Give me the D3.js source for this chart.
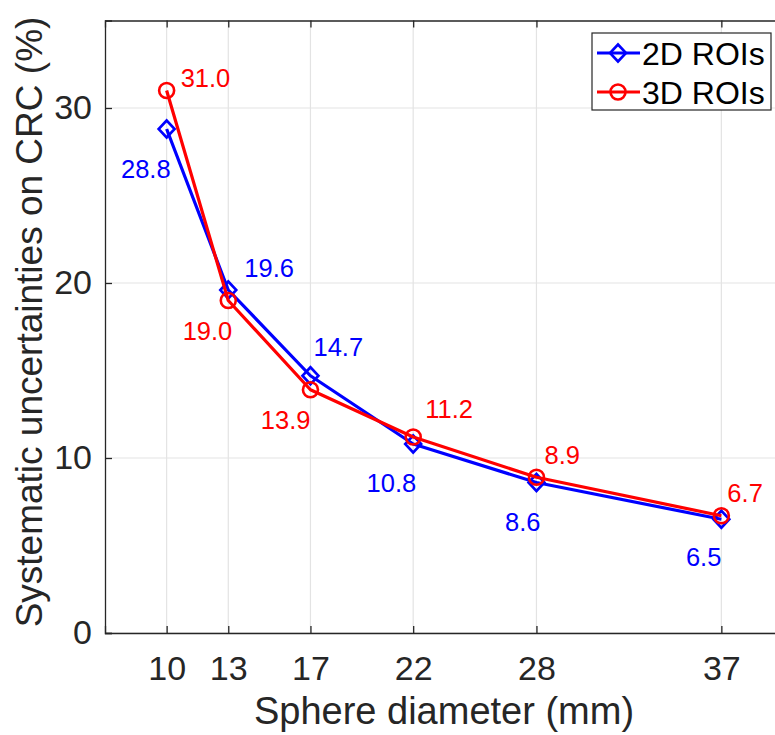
<!DOCTYPE html>
<html>
<head>
<meta charset="utf-8">
<script src="https://cdn.jsdelivr.net/npm/d3@7/dist/d3.min.js"></script>
<style>
  html, body { margin: 0; padding: 0; background: #fff; }
  svg { display: block; }
  text { font-family: "Liberation Sans", Arial, Helvetica, sans-serif; }
</style>
</head>
<body>
<svg id="chart" width="775" height="735"></svg>
<script>
// Sphere diameters (mm)
const diameters = [10, 13, 17, 22, 28, 37];
// Systematic uncertainties on CRC (%)
const roi2D = [28.8, 19.6, 14.7, 10.8, 8.6, 6.5];
const roi3D = [31.0, 19.0, 13.9, 11.2, 8.9, 6.7];
const yTicks = [0, 10, 20, 30];
const seriesNames = ["2D ROIs", "3D ROIs"];

// Value-label placement: [anchor, dx, dy] relative to each point
const place2D = [["end", 4, 40], ["start", 16, -22], ["start", 3, -29], ["end", 3, 39], ["end", 4, 39], ["end", 0, 38]];
const place3D = [["start", 14, -13], ["end", 4, 30], ["end", 0, 30], ["start", 12, -28], ["start", 8, -22], ["start", 6, -23]];

const svg = d3.select("#chart");
const m = { left: 105, top: 20.5, right: 783, bottom: 633 };

const x = d3.scaleLinear().domain([7, 40]).range([m.left, m.right]);
const y = d3.scaleLinear().domain([0, 35]).range([m.bottom, m.top]);

const axisColor = "#262626";
const gridColor = "#e3e3e3";

// grid
const g = svg.append("g");
g.selectAll(".gx").data(diameters).join("line")
  .attr("x1", d => x(d)).attr("x2", d => x(d))
  .attr("y1", m.top).attr("y2", m.bottom)
  .attr("stroke", gridColor).attr("stroke-width", 1.2);
g.selectAll(".gy").data(yTicks).join("line")
  .attr("x1", m.left).attr("x2", m.right)
  .attr("y1", d => y(d)).attr("y2", d => y(d))
  .attr("stroke", gridColor).attr("stroke-width", 1.2);

// axes (inward ticks, box)
const xAxis = d3.axisBottom(x).tickValues(diameters).tickSize(-7).tickPadding(23).tickFormat(d3.format("d"));
const yAxis = d3.axisLeft(y).tickValues(yTicks).tickSize(-7).tickPadding(13).tickFormat(d3.format("d"));

const gx = svg.append("g").attr("transform", `translate(0,${m.bottom})`).call(xAxis);
const gy = svg.append("g").attr("transform", `translate(${m.left},0)`).call(yAxis);
const gxTop = svg.append("g").attr("transform", `translate(0,${m.top})`)
  .call(d3.axisTop(x).tickValues(diameters).tickSize(-7).tickFormat(""));

[gx, gy, gxTop].forEach(a => {
  a.select(".domain").attr("stroke", axisColor).attr("stroke-width", 1.3);
  a.selectAll(".tick line").attr("stroke", axisColor).attr("stroke-width", 1.3);
  a.selectAll(".tick text").attr("fill", axisColor).attr("font-size", 34)
    .attr("font-family", "Liberation Sans, Arial, sans-serif");
});
gx.selectAll(".tick text").attr("dy", "0.71em");

// axis labels
svg.append("text")
  .attr("x", (m.left + m.right) / 2).attr("y", 724)
  .attr("text-anchor", "middle").attr("font-size", 38).attr("fill", axisColor)
  .text("Sphere diameter (mm)");
svg.append("text")
  .attr("transform", `translate(42,322) rotate(-90)`)
  .attr("text-anchor", "middle").attr("font-size", 37).attr("fill", axisColor)
  .text("Systematic uncertainties on CRC (%)");

// series
const series = [
  { name: seriesNames[0], values: roi2D, color: "#0000ff", marker: "diamond", place: place2D },
  { name: seriesNames[1], values: roi3D, color: "#ff0000", marker: "circle", place: place3D }
];

const line = d3.line().x(d => x(d[0])).y(d => y(d[1]));

function drawMarker(sel, type, color) {
  if (type === "diamond") {
    sel.append("path").attr("d", "M0,-8.5L8,0L0,8.5L-8,0Z")
      .attr("fill", "none").attr("stroke", color).attr("stroke-width", 2.6);
  } else {
    sel.append("circle").attr("r", 7.5)
      .attr("fill", "none").attr("stroke", color).attr("stroke-width", 2.6);
  }
}

series.forEach(s => {
  const pts = diameters.map((d, i) => [d, s.values[i]]);
  svg.append("path").datum(pts).attr("d", line)
    .attr("fill", "none").attr("stroke", s.color).attr("stroke-width", 3.2)
    .attr("stroke-linejoin", "round");
  pts.forEach(p => {
    const mk = svg.append("g").attr("transform", `translate(${x(p[0])},${y(p[1])})`);
    drawMarker(mk, s.marker, s.color);
  });
});

// value labels
series.forEach(s => {
  diameters.forEach((d, i) => {
    const [anchor, dx, dy] = s.place[i];
    svg.append("text")
      .attr("x", x(d) + dx).attr("y", y(s.values[i]) + dy)
      .attr("dy", "0.36em")
      .attr("text-anchor", anchor).attr("font-size", 25.5).attr("fill", s.color)
      .text(s.values[i].toFixed(1));
  });
});

// legend
const lg = svg.append("g");
lg.append("rect").attr("x", 592).attr("y", 33).attr("width", 179).attr("height", 77)
  .attr("fill", "#fff").attr("stroke", axisColor).attr("stroke-width", 1.2);
series.forEach((s, i) => {
  const cy = 53 + i * 39;
  lg.append("line").attr("x1", 597).attr("x2", 640).attr("y1", cy).attr("y2", cy)
    .attr("stroke", s.color).attr("stroke-width", 3.2);
  const mk = lg.append("g").attr("transform", `translate(618,${cy})`);
  drawMarker(mk, s.marker, s.color);
  lg.append("text").attr("x", 642).attr("y", cy).attr("dy", "0.36em")
    .attr("font-size", 32).attr("fill", "#000").text(s.name);
});
</script>
</body>
</html>
